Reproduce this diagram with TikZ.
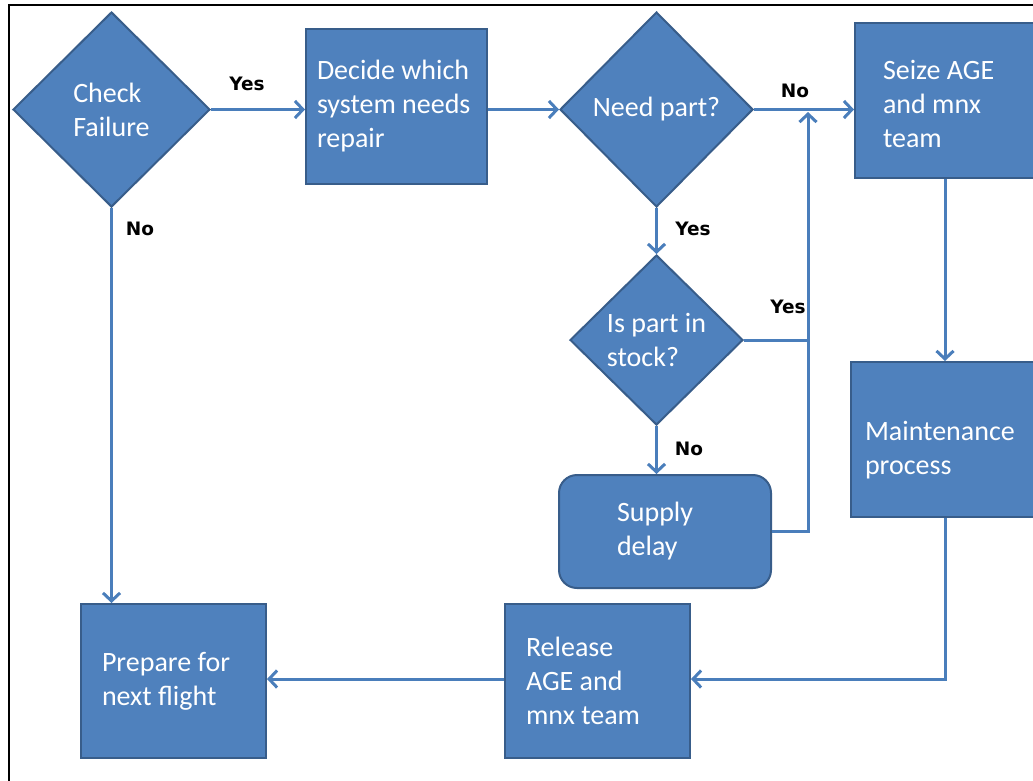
\documentclass[tikz,border=0pt]{standalone}
\usepackage{fontspec}
\setmainfont{Carlito}
\newfontfamily\lblfont{DejaVu Sans}
\usetikzlibrary{arrows.meta,shapes.geometric}
\definecolor{boxblue}{RGB}{79,129,189}
\definecolor{boxedge}{RGB}{56,93,138}
\definecolor{flowblue}{RGB}{74,126,187}

\begin{document}
\begin{tikzpicture}[x=1pt,y=-1pt,
  shape base/.style={draw=boxedge,fill=boxblue,line width=2pt,text=white,
    font=\fontsize{28}{34}\selectfont,align=flush left},
  procbox/.style={shape base,rectangle,inner ysep=0pt},
  decision/.style={shape base,diamond,inner sep=0pt},
  flow/.style={draw=flowblue,line width=3pt,-{Straight Barb[length=8pt,width=17pt]}},
  plain flow/.style={draw=flowblue,line width=3pt},
  answer/.style={font=\lblfont\bfseries\fontsize{18.5}{21}\selectfont,text=black}]
  \clip (0,0) rectangle (1033,780);
  \fill[white] (0,0) rectangle (1033,780);
  \draw[black,line width=2pt] (9,781) -- (9,5) -- (1034,5);

  \node[decision,minimum width=197,minimum height=195] (check) at (111.5,109.5) {Check\\Failure};
  \node[procbox,minimum width=181,minimum height=155,text width=159,inner xsep=11] (decide) at (396.5,106.5) {Decide which\\system needs\\repair};
  \node[decision,minimum width=193,minimum height=195] (need) at (656.5,109.5) {Need part?};
  \node[procbox,minimum width=180,minimum height=155,text width=124,inner xsep=28] (seize) at (945,100.5) {\rule{0pt}{27pt}Seize AGE\\and mnx\\team};
  \node[decision,minimum width=173,minimum height=170] (stock) at (656.5,340) {Is part in\\stock?};
  \node[procbox,rounded corners=18,minimum width=212,minimum height=113,text width=96,inner xsep=58] (supply) at (665,531.5) {Supply\\delay};
  \node[procbox,minimum width=184,minimum height=155,text width=160,inner xsep=14] (maint) at (945,439.5) {\rule{0pt}{40pt}Maintenance\\process};
  \node[procbox,minimum width=185,minimum height=154,text width=143,inner xsep=21] (release) at (597.5,681) {Release\\AGE and\\mnx team};
  \node[procbox,minimum width=185,minimum height=154,text width=143,inner xsep=21] (prep) at (173.5,681) {Prepare for\\next flight};
  \coordinate (merge) at (808,112);

  \draw[flow] (check.east) -- (check.east -| decide.west);
  \draw[flow] (need.west -| decide.east) -- (need.west);
  \draw[flow] (need.east) -- (need.east -| seize.west);
  \draw[flow] (need.south) -- (stock.north);
  \draw[flow] (stock.east) -| (merge);
  \draw[plain flow] (supply.east) -| (merge |- stock.east);
  \draw[flow] (stock.south) -- (stock.south |- supply.north);
  \draw[flow] (check.south) -- (check.south |- prep.north);
  \draw[flow] (seize.south) -- (maint.north);
  \draw[flow] (maint.south) |- ([yshift=2]release.east);
  \draw[flow] ([yshift=2]release.west) -- ([yshift=2]prep.east);

  \node[answer] (yes1) at (247,84) {Yes};
  \node[answer] (no1) at (140,229) {No};
  \node[answer] (no2) at (795,91) {No};
  \node[answer] (yes2) at (693,229) {Yes};
  \node[answer] (yes3) at (788,307) {Yes};
  \node[answer] (no3) at (689,449) {No};
\end{tikzpicture}
\end{document}
